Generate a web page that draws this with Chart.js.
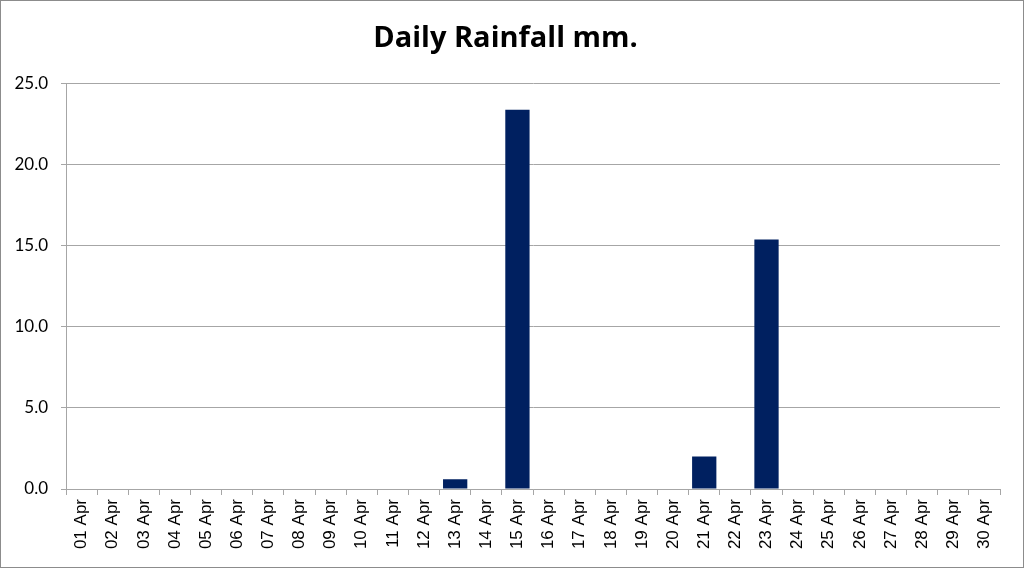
<!DOCTYPE html>
<html>
<head>
<meta charset="utf-8">
<script src="https://cdn.jsdelivr.net/npm/chart.js@4/dist/chart.umd.min.js"></script>
<style>
  html, body { margin: 0; padding: 0; background: #fff; }
  #wrap {
    width: 1024px; height: 568px; box-sizing: border-box;
    border: 1px solid #8c8c8c; position: relative;
  }
  canvas { display: block; }
</style>
</head>
<body>
<div id="wrap"><canvas id="rain" width="1022" height="566"></canvas></div>
<script>
// April days
const days = [];
for (let d = 1; d <= 30; d++) {
  days.push((d < 10 ? "0" + d : "" + d) + " Apr");
}

// daily rainfall, mm
const rainfall = [
  0, 0, 0, 0, 0, 0, 0, 0, 0, 0,
  0, 0, 0.6, 0, 23.4, 0, 0, 0, 0, 0,
  2.0, 0, 15.4, 0, 0, 0, 0, 0, 0, 0
];

const yTicks = [0, 5, 10, 15, 20, 25];

const gridColor = "#a6a6a6";

const ctx = document.getElementById("rain");
new Chart(ctx, {
  type: "bar",
  data: {
    labels: days,
    datasets: [{
      label: "Rainfall",
      data: rainfall,
      backgroundColor: "#002060",
      borderWidth: 0,
      categoryPercentage: 0.78,
      barPercentage: 1.0
    }]
  },
  options: {
    responsive: false,
    animation: false,
    layout: { padding: { left: 10, right: 23, top: 0, bottom: 10 } },
    plugins: {
      legend: { display: false },
      tooltip: { enabled: false },
      title: {
        display: true,
        text: "Daily Rainfall mm.",
        color: "#000",
        font: { family: "Open Sans", size: 29, weight: "bold" },
        padding: { top: 20, bottom: 28 }
      }
    },
    scales: {
      x: {
        offset: true,
        grid: {
          display: true,
          offset: true,
          drawOnChartArea: false,
          drawTicks: true,
          tickLength: 6,
          color: gridColor
        },
        border: { display: true, color: gridColor },
        ticks: {
          autoSkip: false,
          minRotation: 90,
          maxRotation: 90,
          padding: 4,
          color: "#000",
          font: { family: "Liberation Sans", size: 17 }
        },
        afterFit: function (scale) { scale.height = 68; }
      },
      y: {
        min: 0,
        max: 25,
        afterBuildTicks: function (scale) {
          scale.ticks = yTicks.map(function (v) { return { value: v }; });
        },
        grid: {
          color: gridColor,
          tickLength: 5
        },
        border: { display: true, color: gridColor },
        ticks: {
          padding: 13,
          color: "#000",
          font: { family: "Lato", size: 17 },
          callback: function (v) { return Number(v).toFixed(1); }
        },
        afterFit: function (scale) { scale.width = 55; }
      }
    }
  }
});
</script>
</body>
</html>
